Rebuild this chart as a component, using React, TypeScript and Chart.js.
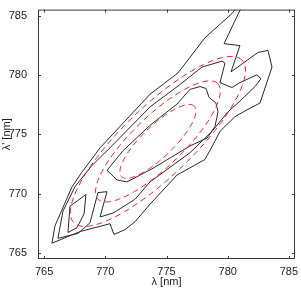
import React, { useEffect, useRef } from "react";
import { Chart, registerables } from "chart.js";

Chart.register(...registerables);

// ---- axis ----
const xTicks = [765, 770, 775, 780, 785];
const yTicks = [765, 770, 775, 780, 785];
const xRange = [764.5, 785.5];
const yRange = [764.5, 785.5];
const xLabel = "λ [nm]";
const yLabel = "λ' [nm]";

// ---- measured contours (black, solid) ----
const outerX = [765.64, 765.89, 767.28, 768.09, 769.57, 773.65, 775.94, 778.14, 780.35, 780.84, 781.17, 779.70, 781.00, 780.27, 782.47, 783.29, 783.62, 782.64, 781.58, 780.59, 779.37, 778.80, 778.14, 775.86, 773.65, 772.42, 771.61, 770.71, 770.38, 767.93, 765.64];
const outerY = [765.83, 767.30, 770.58, 771.81, 773.86, 778.37, 780.17, 783.12, 785.17, 785.8, 785.8, 782.63, 782.47, 780.25, 781.89, 782.06, 780.66, 777.63, 777.06, 776.48, 775.25, 774.11, 772.88, 771.57, 769.11, 767.63, 766.97, 766.57, 767.47, 766.81, 765.83];

const middleX = [766.13, 766.54, 767.52, 768.91, 770.38, 773.65, 776.10, 777.90, 779.53, 779.78, 779.37, 780.35, 781.00, 782.39, 782.72, 782.23, 781.00, 780.02, 778.72, 776.92, 773.65, 772.42, 770.63, 769.57, 770.14, 769.40, 768.75, 767.77, 766.13];
const middleY = [766.24, 768.53, 770.58, 772.38, 773.86, 777.30, 779.19, 780.66, 781.16, 780.99, 779.35, 778.94, 779.35, 780.01, 779.68, 779.02, 777.79, 776.89, 775.25, 773.45, 770.99, 769.52, 768.37, 768.04, 770.17, 770.09, 767.55, 766.65, 766.24];

const innerX = [770.14, 771.44, 773.65, 775.86, 776.92, 777.74, 778.23, 778.47, 779.04, 779.21, 778.96, 778.31, 776.92, 773.90, 771.77, 770.95, 770.14];
const innerY = [771.97, 773.61, 775.75, 777.55, 778.78, 779.02, 778.86, 778.12, 777.63, 776.89, 775.66, 774.68, 774.02, 772.14, 770.99, 771.16, 771.97];

const islandX = [767.11, 768.42, 768.26, 767.69, 766.95, 767.11];
const islandY = [768.94, 769.93, 768.29, 767.14, 766.73, 768.94];

// ---- fitted Gaussian contours (red, dashed): ellipse parameters ----
const ellipseCenterX = [774.3, 774.3, 774.3];
const ellipseCenterY = [774.4, 774.4, 774.4];
const ellipseSemiMajor = [9.7, 6.9, 4.2];
const ellipseSemiMinor = [2.9, 2.1, 1.3];
const ellipseAngleDeg = [45, 45, 45];

function pts(xs: number[], ys: number[]) {
  return xs.map((x, i) => ({ x, y: ys[i] }));
}

function ellipse(i: number) {
  const out: { x: number; y: number }[] = [];
  const th = (ellipseAngleDeg[i] * Math.PI) / 180;
  const n = 120;
  for (let k = 0; k <= n; k++) {
    const t = (2 * Math.PI * k) / n;
    const u = ellipseSemiMajor[i] * Math.cos(t);
    const v = ellipseSemiMinor[i] * Math.sin(t);
    out.push({
      x: ellipseCenterX[i] + u * Math.cos(th) - v * Math.sin(th),
      y: ellipseCenterY[i] + u * Math.sin(th) + v * Math.cos(th),
    });
  }
  return out;
}

const FONT = "'Liberation Sans', Arial, Helvetica, sans-serif";

const framePlugin = {
  id: "frame",
  afterDatasetsDraw(chart: any) {
    const { ctx, chartArea, scales } = chart;
    const { left, right, top, bottom } = chartArea;
    const xs = scales.x;
    const ys = scales.y;
    ctx.save();
    ctx.strokeStyle = "#3a3a3a";
    ctx.lineWidth = 1;
    ctx.strokeRect(left + 0.5, top + 0.5, right - left - 1, bottom - top - 1);
    const tl = 3;
    ctx.beginPath();
    xTicks.forEach((v) => {
      const p = Math.round(xs.getPixelForValue(v)) + 0.5;
      ctx.moveTo(p, bottom);
      ctx.lineTo(p, bottom - tl);
      ctx.moveTo(p, top);
      ctx.lineTo(p, top + tl);
    });
    yTicks.forEach((v) => {
      const p = Math.round(ys.getPixelForValue(v)) + 0.5;
      ctx.moveTo(left, p);
      ctx.lineTo(left + tl, p);
      ctx.moveTo(right, p);
      ctx.lineTo(right - tl, p);
    });
    ctx.stroke();
    ctx.restore();
  },
};

export default function App() {
  const ref = useRef<HTMLCanvasElement>(null);
  useEffect(() => {
    const canvas = ref.current!;
    const black = (data: any) => ({
      data,
      showLine: true,
      pointRadius: 0,
      borderColor: "#2a2a2a",
      borderWidth: 1,
      fill: false,
      tension: 0,
    });
    const red = (data: any) => ({
      data,
      showLine: true,
      pointRadius: 0,
      borderColor: "#ff2020",
      borderWidth: 1,
      borderDash: [6, 4],
      fill: false,
      tension: 0,
    });
    const chart = new Chart(canvas, {
      type: "scatter",
      data: {
        datasets: [
          red(ellipse(0)),
          red(ellipse(1)),
          red(ellipse(2)),
          black(pts(outerX, outerY)),
          black(pts(middleX, middleY)),
          black(pts(innerX, innerY)),
          black(pts(islandX, islandY)),
        ] as any,
      },
      options: {
        animation: false,
        responsive: false,
        devicePixelRatio: 1,
        layout: { padding: { left: 0, right: 6, top: 3, bottom: 0 } },
        plugins: { legend: { display: false }, tooltip: { enabled: false } },
        scales: {
          x: {
            type: "linear",
            position: "bottom",
            min: xRange[0],
            max: xRange[1],
            grid: { display: false },
            border: { display: false },
            afterBuildTicks: (s: any) => {
              s.ticks = xTicks.map((v) => ({ value: v }));
            },
            afterFit: (s: any) => {
              s.height = 30;
            },
            ticks: {
              padding: -2,
              color: "#222",
              font: { family: FONT, size: 11 },
              maxRotation: 0,
              callback: (v: any) => String(v),
            },
            title: {
              display: true,
              text: xLabel,
              color: "#222",
              font: { family: FONT, size: 11 },
              padding: { top: 0, bottom: 0 },
            },
          },
          y: {
            type: "linear",
            position: "left",
            min: yRange[0],
            max: yRange[1],
            grid: { display: false },
            border: { display: false },
            afterBuildTicks: (s: any) => {
              s.ticks = yTicks.map((v) => ({ value: v }));
            },
            afterFit: (s: any) => {
              s.width = 38;
            },
            ticks: {
              padding: 3,
              color: "#222",
              font: { family: FONT, size: 11 },
              callback: (v: any) => String(v),
            },
            title: {
              display: true,
              text: yLabel,
              color: "#222",
              font: { family: FONT, size: 11 },
              padding: { top: 0, bottom: 0 },
            },
          },
        },
      } as any,
      plugins: [framePlugin],
    });
    return () => chart.destroy();
  }, []);
  return (
    <div style={{ position: "fixed", left: 0, top: 0, width: 301, height: 289, background: "#fff" }}>
      <canvas ref={ref} width={301} height={289} style={{ display: "block", width: 301, height: 289 }} />
    </div>
  );
}
